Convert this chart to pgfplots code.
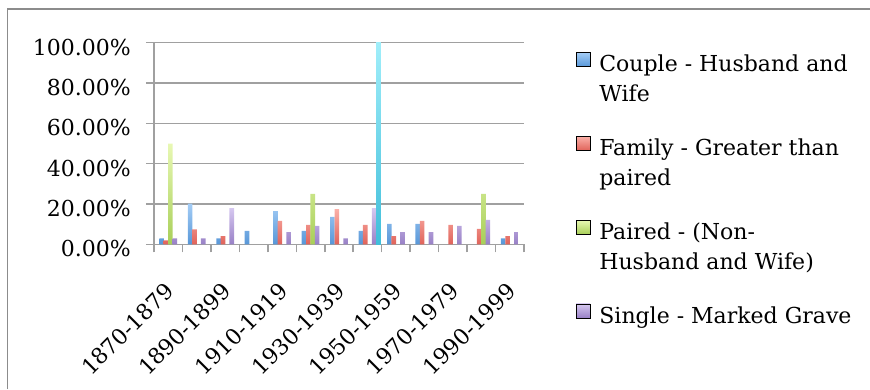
\documentclass[border=0pt]{standalone}
\usepackage{pgfplots}
\pgfplotsset{compat=1.18}
\usepackage{fontspec}
\setmainfont{DejaVu Serif}
\definecolor{gridgray}{HTML}{A0A0A0}
\definecolor{framegray}{HTML}{8C8C8C}
\definecolor{blueT}{HTML}{A4CDF6}
\definecolor{blueB}{HTML}{5897D8}
\definecolor{redT}{HTML}{FBB0A8}
\definecolor{redB}{HTML}{E0635A}
\definecolor{greenT}{HTML}{E8F8B4}
\definecolor{greenB}{HTML}{A8CF58}
\definecolor{purpleT}{HTML}{D6C8F0}
\definecolor{purpleB}{HTML}{9880C6}
\definecolor{cyanT}{HTML}{A0EEFA}
\definecolor{cyanB}{HTML}{40BEDA}
\newcommand{\ls}{\rule[-8.35pt]{0pt}{32.7pt}}
\begin{document}
\begin{tikzpicture}[font=\fontsize{22}{26}\selectfont]
\useasboundingbox (0,0) rectangle (870pt,389pt);
\draw[framegray, line width=1.5pt] (7.5pt,0pt) -- (7.5pt,380pt) -- (871pt,380pt);
\begin{axis}[
  at={(154pt,144.7pt)}, anchor=south west,
  scale only axis, width=370pt, height=201.6pt,
  xmin=-0.5, xmax=12.5, ymin=0, ymax=100,
  axis x line=bottom, axis y line=left,
  axis line style={-, gridgray, line width=1.5pt},
  ymajorgrids, grid style={gridgray, line width=1.5pt},
  ytick={0,20,40,60,80,100},
  yticklabels={0.00\%,20.00\%,40.00\%,60.00\%,80.00\%,100.00\%},
  xtick={0,2,4,6,8,10,12},
  xticklabels={1870-1879,1890-1899,1910-1919,1930-1939,1950-1959,1970-1979,1990-1999},
  minor xtick={-0.5,0.5,1.5,2.5,3.5,4.5,5.5,6.5,7.5,8.5,9.5,10.5,11.5,12.5},
  tick align=outside, major tick length=8pt, minor tick length=8pt,
  tick style={gridgray, line width=1.5pt},
  major x tick style={draw=none},
  /pgf/number format/assume math mode=true,
  xticklabel style={rotate=45, anchor=north east, inner sep=0pt, xshift=-23pt, yshift=-17pt, font=\fontsize{22}{26}\selectfont},
  yticklabel style={anchor=east, inner sep=0pt, xshift=-15pt, yshift=-4.4pt, font=\fontsize{22}{26}\selectfont},
  ybar=-0.2pt, bar width=4.6pt,
  legend image code/.code={\draw[#1] (0pt,-6pt) rectangle (14pt,8pt);},
  legend cell align=left,
  legend style={at={(1.1405,0.9854)}, anchor=north west, draw=none, fill=none,
    inner sep=0pt, outer sep=0pt, row sep=0pt, column sep=7pt,
    cells={anchor=west, inner sep=0pt}, font=\fontsize{22}{26}\selectfont},
]
\addplot[draw=none, top color=blueT, bottom color=blueB] coordinates {
  (0,3.0) (1,20.2) (2,3.0) (3,6.6) (4,16.5) (5,6.6) (6,13.6) (7,6.6) (8,10.1) (9,10.1) (12,3.0)};
\addlegendentry{\ls Couple - Husband and}
\addlegendimage{empty legend}\addlegendentry{\ls Wife}
\addlegendimage{empty legend}\addlegendentry{\rule{0pt}{18.6pt}}
\addplot[draw=none, top color=redT, bottom color=redB] coordinates {
  (0,2.0) (1,7.4) (2,4.1) (4,11.6) (5,9.6) (6,17.5) (7,9.6) (8,4.1) (9,11.6) (10,9.6) (11,7.6) (12,4.1)};
\addlegendentry{\ls Family - Greater than}
\addlegendimage{empty legend}\addlegendentry{\ls paired}
\addlegendimage{empty legend}\addlegendentry{\rule{0pt}{18.6pt}}
\addplot[draw=none, top color=greenT, bottom color=greenB] coordinates {
  (0,50.0) (5,25.0) (11,25.0)};
\addlegendentry{\ls Paired - (Non-}
\addlegendimage{empty legend}\addlegendentry{\ls Husband and Wife)}
\addlegendimage{empty legend}\addlegendentry{\rule{0pt}{18.6pt}}
\addplot[draw=none, top color=purpleT, bottom color=purpleB] coordinates {
  (0,3.0) (1,3.0) (2,18.0) (4,6.1) (5,9.1) (6,3.0) (7,18.0) (8,6.1) (9,6.1) (10,9.1) (11,12.1) (12,6.1)};
\addlegendentry{\ls Single - Marked Grave}
\addplot[draw=none, top color=cyanT, bottom color=cyanB, forget plot] coordinates {
  (7,100.0)};
\end{axis}
\end{tikzpicture}
\end{document}
